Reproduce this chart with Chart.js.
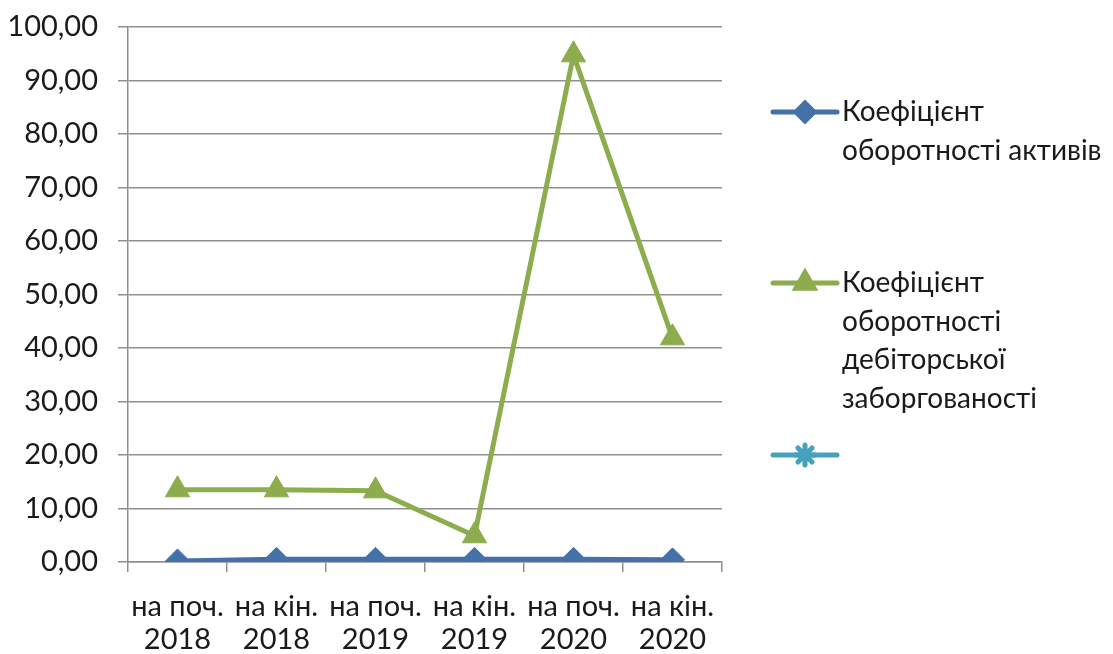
<!DOCTYPE html>
<html>
<head>
<meta charset="utf-8">
<script src="https://cdn.jsdelivr.net/npm/chart.js@4"></script>
<style>
  html, body { margin: 0; padding: 0; background: #fff; }
  #wrap { width: 1113px; height: 654px; }
</style>
</head>
<body>
<div id="wrap"><canvas id="chart" width="1113" height="654"></canvas></div>
<script>
// categories (two-line labels)
const periods = [
  ['на поч.', '2018'], ['на кін.', '2018'],
  ['на поч.', '2019'], ['на кін.', '2019'],
  ['на поч.', '2020'], ['на кін.', '2020']
];
// series values
const assetTurnover = [0.2, 0.5, 0.5, 0.5, 0.5, 0.4];
const receivablesTurnover = [13.5, 13.5, 13.3, 4.9, 94.8, 41.9];
const emptySeries = [null, null, null, null, null, null];
// legend text, wrapped as in the original
const legendLines = [
  ['Коефіцієнт', 'оборотності активів'],
  ['Коефіцієнт', 'оборотності', 'дебіторської', 'заборгованості'],
  []
];

const FONT = 'Lato, "Open Sans", sans-serif';
const TEXT = '#1a1a1a';
const GRID = '#8f8f8f';

// draws the legend on the right side, Excel-like
const sideLegend = {
  id: 'sideLegend',
  afterDraw(chart) {
    const ctx = chart.ctx;
    const x0 = chart.chartArea.right + 51;
    const lineH = 38.5;
    const starts = [112, 283, 455]; // middle of first text line
    ctx.save();
    chart.data.datasets.forEach((ds, i) => {
      const y = starts[i];
      ctx.strokeStyle = ds.borderColor;
      ctx.lineWidth = 5;
      ctx.lineCap = 'round';
      ctx.beginPath();
      ctx.moveTo(x0, y);
      ctx.lineTo(x0 + 64, y);
      ctx.stroke();
      ctx.fillStyle = ds.backgroundColor;
      ctx.strokeStyle = ds.borderColor;
      Chart.helpers.drawPoint(ctx, {
        pointStyle: ds.pointStyle,
        radius: ds.pointStyle === 'star' ? 10 : ds.pointRadius * 0.75,
        borderWidth: ds.pointStyle === 'star' ? 2 : 1
      }, x0 + 32, y);
      ctx.fillStyle = TEXT;
      ctx.font = '28px ' + FONT;
      ctx.textBaseline = 'middle';
      legendLines[i].forEach((t, k) => {
        ctx.fillText(t, x0 + 69, y + k * lineH);
      });
    });
    ctx.restore();
  }
};

new Chart(document.getElementById('chart'), {
  type: 'line',
  data: {
    labels: periods,
    datasets: [
      {
        label: legendLines[0].join(' '),
        data: assetTurnover,
        borderColor: '#4472a8',
        backgroundColor: '#4472a8',
        borderWidth: 5,
        pointStyle: 'rectRot',
        pointRadius: 12,
        pointBorderWidth: 1
      },
      {
        label: legendLines[1].join(' '),
        data: receivablesTurnover,
        borderColor: '#8cac4e',
        backgroundColor: '#8cac4e',
        borderWidth: 5,
        pointStyle: 'triangle',
        pointRadius: 14,
        pointBorderWidth: 1
      },
      {
        label: '',
        data: emptySeries,
        borderColor: '#45a2bd',
        backgroundColor: '#45a2bd',
        borderWidth: 5,
        pointStyle: 'star',
        pointRadius: 8
      }
    ]
  },
  options: {
    responsive: false,
    animation: false,
    layout: { padding: { left: 10, right: 391, top: 0, bottom: 0 } },
    plugins: {
      legend: { display: false },
      tooltip: { enabled: false }
    },
    scales: {
      x: {
        offset: true,
        afterFit: s => { s.height = 92; },
        grid: {
          offset: true,
          drawOnChartArea: false,
          drawTicks: true,
          tickLength: 10,
          color: GRID,
          lineWidth: 1.5
        },
        border: { color: GRID, width: 1.5 },
        ticks: {
          color: TEXT,
          font: { family: FONT, size: 29, lineHeight: 1.15 },
          padding: 18,
          maxRotation: 0,
          autoSkip: false
        }
      },
      y: {
        min: 0,
        max: 100,
        afterFit: s => { s.width = 118; s.paddingTop = 27; s.paddingBottom = 0; },
        grid: {
          color: GRID,
          lineWidth: 1.5,
          tickLength: 10
        },
        border: { color: GRID, width: 1.5 },
        ticks: {
          stepSize: 10,
          color: TEXT,
          font: { family: FONT, size: 29 },
          padding: 20,
          callback: v => v.toFixed(2).replace('.', ',')
        }
      }
    }
  },
  plugins: [sideLegend]
});
</script>
</body>
</html>
